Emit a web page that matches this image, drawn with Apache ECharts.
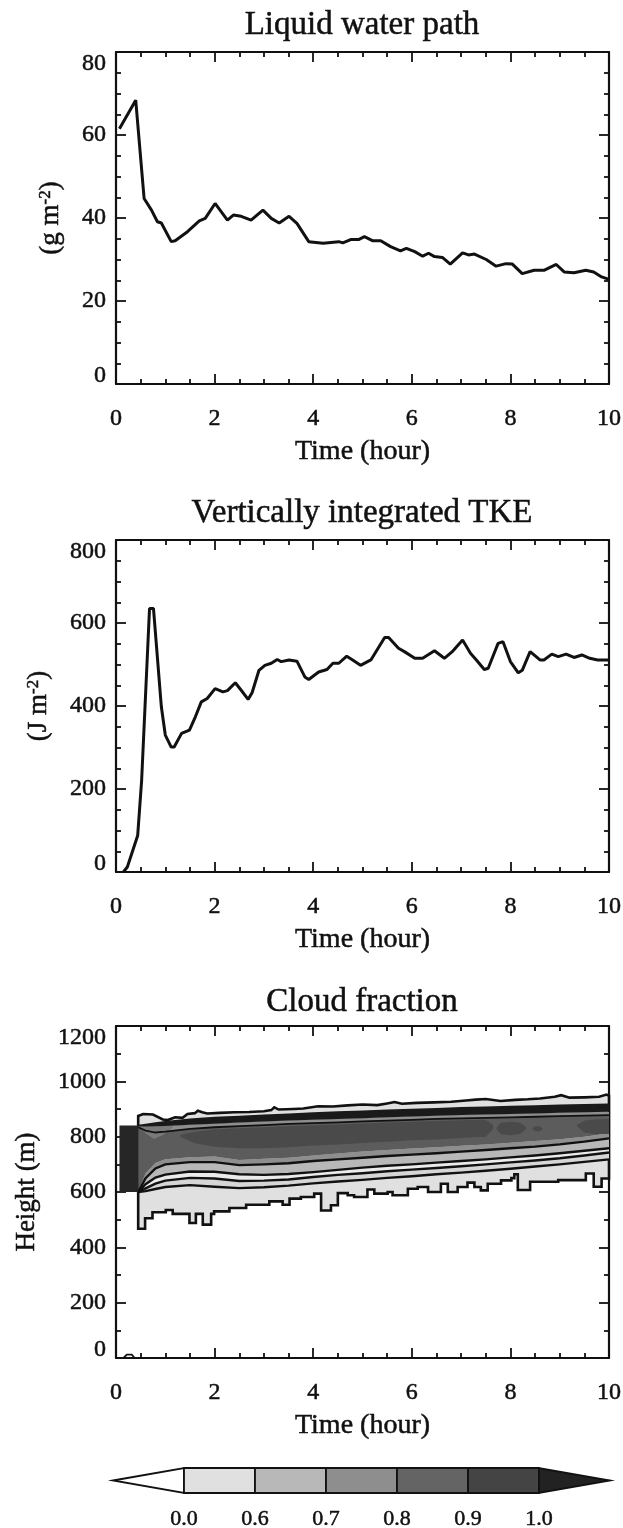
<!DOCTYPE html>
<html>
<head>
<meta charset="utf-8">
<script src="https://cdn.jsdelivr.net/npm/echarts@6/dist/echarts.min.js"></script>
<style>
  html, body { margin: 0; padding: 0; background: #ffffff; }
  #chart { width: 623px; height: 1528px; }
</style>
</head>
<body>
<div id="chart"></div>
<script>
// ---- Liquid water path (g m^-2) ----
const lwpTime = [0.07, 0.40, 0.57, 0.72, 0.84, 0.92, 1.12, 1.20, 1.45, 1.69, 1.81, 2.01, 2.26, 2.38, 2.54, 2.74, 2.98, 3.15, 3.31, 3.51, 3.67, 3.91, 4.20, 4.52, 4.60, 4.76, 4.92, 5.04, 5.21, 5.37, 5.57, 5.77, 5.89, 6.06, 6.22, 6.34, 6.46, 6.62, 6.78, 7.03, 7.15, 7.27, 7.51, 7.71, 7.91, 8.04, 8.24, 8.48, 8.68, 8.93, 9.09, 9.29, 9.53, 9.69, 9.85, 10.0];
const lwpValue = [61.5, 68.4, 44.7, 41.9, 39.1, 38.8, 34.3, 34.5, 36.7, 39.3, 39.9, 43.5, 39.5, 40.7, 40.4, 39.5, 41.9, 39.9, 38.8, 40.4, 38.7, 34.3, 33.9, 34.3, 34.0, 34.8, 34.8, 35.5, 34.5, 34.5, 33.1, 32.1, 32.7, 31.9, 30.8, 31.5, 30.7, 30.5, 28.9, 31.6, 31.1, 31.3, 30.0, 28.4, 29.0, 28.9, 26.6, 27.4, 27.4, 28.8, 27.0, 26.8, 27.4, 27.0, 25.8, 25.2];

// ---- Vertically integrated TKE (J m^-2) ----
const tkeTime = [0.15, 0.23, 0.44, 0.52, 0.68, 0.76, 0.92, 1.00, 1.12, 1.18, 1.33, 1.49, 1.61, 1.73, 1.85, 2.01, 2.17, 2.26, 2.42, 2.54, 2.68, 2.76, 2.90, 3.02, 3.15, 3.27, 3.35, 3.51, 3.67, 3.83, 3.91, 4.11, 4.28, 4.40, 4.52, 4.68, 4.80, 4.96, 5.17, 5.45, 5.53, 5.73, 5.85, 6.06, 6.22, 6.46, 6.66, 6.82, 7.03, 7.19, 7.31, 7.47, 7.55, 7.75, 7.85, 8.00, 8.16, 8.24, 8.40, 8.60, 8.68, 8.84, 8.97, 9.13, 9.29, 9.45, 9.61, 9.77, 10.0];
const tkeValue = [0, 12, 88, 221, 635, 635, 398, 330, 301, 301, 334, 342, 374, 410, 418, 442, 434, 437, 456, 438, 416, 432, 486, 498, 503, 512, 507, 511, 508, 470, 464, 482, 488, 503, 503, 520, 511, 498, 511, 565, 565, 539, 531, 515, 515, 533, 515, 531, 559, 527, 511, 488, 491, 551, 555, 507, 480, 486, 531, 511, 511, 525, 519, 525, 517, 523, 515, 511, 511];

// ---- Cloud fraction: contour boundaries (height in m vs time in hours) ----
// outer edge of the cloudy region: top (polyline) and base (step-wise)
const cfTopT = [0.45, 0.55, 0.75, 0.95, 1.05, 1.2, 1.35, 1.45, 1.6, 1.66, 1.75, 1.85, 2.1, 2.4, 2.7, 3.0, 3.15, 3.21, 3.3, 3.6, 3.8, 4.1, 4.4, 4.7, 5.0, 5.3, 5.5, 5.65, 5.8, 6.1, 6.45, 6.8, 7.1, 7.3, 7.5, 7.8, 8.1, 8.35, 8.6, 8.9, 9.03, 9.2, 9.5, 9.8, 9.95, 10];
const cfTopH = [875, 882, 880, 862, 860, 870, 868, 882, 885, 894, 888, 884, 886, 888, 889, 892, 896, 906, 898, 900, 902, 910, 909, 913, 916, 914, 920, 925, 919, 922, 924, 926, 931, 934, 936, 929, 933, 935, 938, 944, 950, 941, 942, 944, 952, 948];
const cfBaseT = [0.45, 0.59, 0.74, 1.01, 1.15, 1.49, 1.62, 1.76, 1.93, 1.99, 2.30, 2.64, 3.11, 3.38, 3.52, 3.75, 4.02, 4.16, 4.36, 4.50, 4.70, 4.83, 5.10, 5.24, 5.51, 5.61, 5.92, 6.12, 6.33, 6.59, 6.73, 6.93, 7.13, 7.27, 7.40, 7.54, 7.81, 8.02, 8.08, 8.15, 8.40, 8.97, 9.53, 9.69, 9.85, 10.0];
const cfBaseH = [467, 505, 527, 535, 521, 488, 521, 482, 521, 530, 542, 554, 566, 554, 576, 582, 594, 533, 552, 596, 588, 582, 609, 594, 600, 588, 612, 618, 600, 630, 600, 618, 634, 618, 606, 630, 642, 650, 664, 607, 637, 643, 667, 619, 649];

// interior contours on a common time axis
const cfT      = [0.45, 0.6, 0.8, 1.0, 1.5, 2.0, 2.5, 3.0, 3.5, 4.0, 4.5, 5.0, 5.5, 6.0, 6.5, 7.0, 7.5, 8.0, 8.5, 9.0, 9.5, 10.0];
const capTop   = [843, 847, 852, 857, 866, 872, 876, 880, 884, 888, 892, 895, 898, 901, 904, 907, 909, 912, 914, 916, 918, 920];
const capBase  = [837, 837, 838, 839, 843, 847, 851, 855, 858, 861, 864, 867, 870, 873, 876, 878, 880, 882, 884, 886, 888, 890];
const bodyTop  = [834, 822, 815, 818, 828, 834, 838, 842, 846, 849, 852, 855, 858, 861, 864, 866, 868, 870, 872, 874, 876, 878];
const bodyBase = [600, 668, 705, 718, 726, 728, 716, 720, 724, 732, 739, 746, 752, 757, 762, 767, 772, 778, 784, 791, 800, 812];
const lineA    = [600, 650, 685, 700, 708, 708, 697, 700, 704, 712, 718, 724, 730, 735, 740, 746, 752, 758, 764, 772, 782, 794];
const lineB    = [600, 628, 652, 663, 674, 673, 664, 662, 665, 672, 680, 688, 695, 700, 706, 712, 718, 725, 732, 740, 749, 758];
const lineC    = [600, 613, 630, 641, 651, 649, 640, 641, 645, 654, 662, 668, 675, 681, 687, 693, 700, 707, 714, 722, 732, 743];
const lineD    = [600, 603, 611, 618, 625, 619, 614, 617, 623, 631, 638, 644, 651, 657, 664, 670, 677, 684, 692, 700, 709, 718];

// densest core (0.9 - 1.0) and its detached patches
const coreT    = [1.3, 1.6, 2.0, 2.5, 3.0, 3.5, 4.0, 4.5, 5.0, 5.5, 6.0, 6.5, 7.0, 7.5, 7.65];
const coreBase = [800, 776, 764, 758, 758, 762, 768, 772, 777, 782, 787, 790, 795, 800, 828];
const coreTop  = [806, 818, 826, 830, 834, 838, 841, 844, 848, 851, 854, 857, 859, 861, 842];
const patch1T = [7.72, 7.8, 8.0, 8.2, 8.32];
const patch1Base = [828, 810, 805, 810, 828];
const patch1Top  = [832, 850, 854, 850, 834];
const patch2T = [8.45, 8.5, 8.6, 8.65];
const patch2Base = [826, 820, 820, 826];
const patch2Top  = [830, 838, 838, 830];
const patch3T = [9.35, 9.5, 9.7, 10.0];
const patch3Base = [838, 815, 810, 810];
const patch3Top  = [842, 858, 862, 864];

// lighter wedge just after spin-up
const wedgeT = [0.45, 0.6, 0.77, 0.95, 1.15];
const wedgeBase = [836, 812, 792, 806, 832];
const wedgeTop  = [837, 837, 838, 839, 841];

// initial saturated layer
const initT = [0.07, 0.45];
const initH = [600, 840];

// small near-surface feature
const surfT = [0.15, 0.22, 0.32, 0.38];
const surfH = [0, 12, 12, 0];

// ---- Colour scale ----
const cbLevels = ['0.0', '0.6', '0.7', '0.8', '0.9', '1.0'];
const cbColors = ['#ffffff', '#e0e0e0', '#b8b8b8', '#8e8e8e', '#646464', '#444444', '#222222'];

const FONT = '"Liberation Serif", "Times New Roman", "DejaVu Serif", serif';
const INK = '#111111';
// slightly heavier glyphs
const HEAVY = { textBorderColor: INK, textBorderWidth: 0.5 };

function zip(a, b) { return a.map((v, i) => [v, b[i]]); }

function xAxes(g) {
  const common = {
    gridIndex: g, type: 'value', min: 0, max: 10, interval: 2,
    splitLine: { show: false },
    axisLine: { show: true, onZero: false, lineStyle: { color: INK, width: 2.2 } },
    axisTick: { show: true, inside: true, length: 10, lineStyle: { color: INK, width: 1.8 } },
    minorTick: { show: true, splitNumber: 4, length: 5, lineStyle: { color: INK, width: 1.8 } }
  };
  return [
    Object.assign({}, common, {
      position: 'bottom',
      axisLabel: Object.assign({ margin: 23, fontFamily: FONT, fontSize: 24, color: INK }, HEAVY),
      name: 'Time (hour)', nameLocation: 'middle', nameGap: 54,
      nameTextStyle: Object.assign({ fontFamily: FONT, fontSize: 28, color: INK }, HEAVY)
    }),
    Object.assign({}, common, { position: 'top', axisLabel: { show: false } })
  ];
}

function yAxes(g, max, interval, minorSplit, name, nameGap) {
  const common = {
    gridIndex: g, type: 'value', min: 0, max: max, interval: interval,
    splitLine: { show: false },
    axisLine: { show: true, onZero: false, lineStyle: { color: INK, width: 2.2 } },
    axisTick: { show: true, inside: true, length: 10, lineStyle: { color: INK, width: 1.8 } },
    minorTick: { show: true, splitNumber: minorSplit, length: 5, lineStyle: { color: INK, width: 1.8 } }
  };
  const labelRich = {
    top: Object.assign({ fontFamily: FONT, fontSize: 24, color: INK, padding: [24, 0, 0, 0] }, HEAVY),
    bot: Object.assign({ fontFamily: FONT, fontSize: 24, color: INK, padding: [0, 0, 16, 0] }, HEAVY)
  };
  return [
    Object.assign({}, common, {
      position: 'left',
      axisLabel: Object.assign({
        margin: 10, fontFamily: FONT, fontSize: 24, color: INK, rich: labelRich,
        formatter: v => v === max ? '{top|' + v + '}' : (v === 0 ? '{bot|' + v + '}' : String(v))
      }, HEAVY),
      name: name, nameLocation: 'middle', nameGap: nameGap,
      nameTextStyle: Object.assign({
        fontFamily: FONT, fontSize: 27, color: INK,
        rich: { sup: Object.assign({ fontFamily: FONT, fontSize: 17, color: INK, verticalAlign: 'top' }, HEAVY) }
      }, HEAVY)
    }),
    Object.assign({}, common, { position: 'right', axisLabel: { show: false } })
  ];
}

const gridLeft = 116, gridRight = 14, gridH = 332;

function cloudShapes(params, api) {
  const P = (t, h) => api.coord([t, h]);
  const between = (T, lo, hi) =>
    T.map((t, i) => P(t, lo[i])).concat(T.map((t, i) => P(t, hi[i])).reverse());
  const line = (T, H) => T.map((t, i) => P(t, H[i]));
  const fill = (pts, color) => ({ type: 'polygon', shape: { points: pts }, style: { fill: color } });
  const stroke = (pts, w) => ({ type: 'polyline', shape: { points: pts }, style: { fill: null, stroke: INK, lineWidth: w } });

  // outer boundary: top edge, then the step-wise base traced back
  const outer = line(cfTopT, cfTopH);
  for (let i = cfBaseH.length - 1; i >= 0; i--) {
    outer.push(P(cfBaseT[i + 1], cfBaseH[i]));
    outer.push(P(cfBaseT[i], cfBaseH[i]));
  }
  const kids = [];
  kids.push({ type: 'polygon', shape: { points: outer }, style: { fill: cbColors[1], stroke: INK, lineWidth: 2.6 } });

  // interior bands
  kids.push(fill(between(cfT, lineD, lineC), '#d6d6d6'));
  kids.push(fill(between(cfT, lineC, lineB), '#ebebeb'));
  kids.push(fill(between(cfT, lineB, lineA), cbColors[2]));
  kids.push(fill(between(cfT, lineA, bodyBase), cbColors[3]));
  kids.push(fill(between(cfT, bodyBase, capBase), '#5c5c5c'));
  kids.push(fill(between(cfT, bodyTop, capBase), cbColors[3]));
  kids.push(fill(between(coreT, coreBase, coreTop), '#4a4a4a'));
  kids.push(fill(between(patch1T, patch1Base, patch1Top), '#4a4a4a'));
  kids.push(fill(between(patch2T, patch2Base, patch2Top), '#4a4a4a'));
  kids.push(fill(between(patch3T, patch3Base, patch3Top), '#4a4a4a'));
  kids.push(fill(between(wedgeT, wedgeBase, wedgeTop), '#7a7a7a'));
  kids.push(fill(between(cfT, capBase, capTop), '#1a1a1a'));

  // contour lines
  kids.push(stroke(line(cfT, lineA), 2.4));
  kids.push(stroke(line(cfT, lineB), 2.4));
  kids.push(stroke(line(cfT, lineC), 2.4));
  kids.push(stroke(line(cfT, lineD), 2.4));
  kids.push(stroke(line(cfT, bodyTop), 1.8));

  // initial layer
  const a = P(initT[0], initH[1]), b = P(initT[1], initH[0]);
  kids.push({ type: 'rect', shape: { x: a[0], y: a[1], width: b[0] - a[0], height: b[1] - a[1] }, style: { fill: '#262626' } });

  kids.push(stroke(line(surfT, surfH), 1.8));
  return { type: 'group', children: kids };
}

function colorbarShapes(params, api) {
  const P = (x, y) => api.coord([x, y]);
  const kids = [];
  const n = cbLevels.length;
  kids.push({ type: 'polygon', shape: { points: [P(-1, 0.5), P(0, 1), P(0, 0)] },
    style: { fill: cbColors[0], stroke: INK, lineWidth: 1.8 } });
  for (let i = 0; i < n - 1; i++) {
    const p0 = P(i, 1), p1 = P(i + 1, 0);
    kids.push({ type: 'rect', shape: { x: p0[0], y: p0[1], width: p1[0] - p0[0], height: p1[1] - p0[1] },
      style: { fill: cbColors[i + 1], stroke: INK, lineWidth: 1.8 } });
  }
  kids.push({ type: 'polygon', shape: { points: [P(n - 1, 0), P(n - 1, 1), P(n, 0.5)] },
    style: { fill: cbColors[n], stroke: INK, lineWidth: 1.8 } });
  return { type: 'group', children: kids };
}

const titles = [
  { text: 'Liquid water path', y: 25 },
  { text: 'Vertically integrated TKE', y: 513 },
  { text: 'Cloud fraction', y: 1002 }
];

const option = {
  animation: false,
  backgroundColor: '#ffffff',
  grid: [
    { left: gridLeft, right: gridRight, top: 52, height: gridH, containLabel: false, outerBoundsMode: 'none' },
    { left: gridLeft, right: gridRight, top: 540, height: gridH, containLabel: false, outerBoundsMode: 'none' },
    { left: gridLeft, right: gridRight, top: 1026, height: gridH, containLabel: false, outerBoundsMode: 'none' },
    { left: 113, right: 13, top: 1468, height: 25, containLabel: false, outerBoundsMode: 'none' }
  ],
  xAxis: [].concat(
    xAxes(0), xAxes(1), xAxes(2),
    [{
      gridIndex: 3, type: 'value', min: -1, max: cbLevels.length, interval: 1,
      axisLine: { show: false }, axisTick: { show: false }, splitLine: { show: false },
      axisLabel: Object.assign({
        margin: 15, fontFamily: FONT, fontSize: 22, color: INK,
        formatter: v => (v >= 0 && v < cbLevels.length) ? cbLevels[v] : ''
      }, HEAVY)
    }]
  ),
  yAxis: [].concat(
    yAxes(0, 80, 20, 4, '(g m{sup|-2})', 52),
    yAxes(1, 800, 200, 4, '(J m{sup|-2})', 64),
    yAxes(2, 1200, 200, 2, 'Height (m)', 76),
    [{ gridIndex: 3, type: 'value', min: 0, max: 1, show: false }]
  ),
  graphic: titles.map(t => ({
    type: 'text', x: 362, y: t.y, silent: true,
    style: Object.assign({ text: t.text, fontFamily: FONT, fontSize: 33, fill: INK, align: 'center', verticalAlign: 'middle',
      stroke: INK, lineWidth: 0.5 })
  })),
  series: [
    {
      type: 'line', xAxisIndex: 0, yAxisIndex: 0, data: zip(lwpTime, lwpValue),
      showSymbol: false, lineStyle: { color: INK, width: 3 }, silent: true
    },
    {
      type: 'line', xAxisIndex: 2, yAxisIndex: 2, data: zip(tkeTime, tkeValue),
      showSymbol: false, lineStyle: { color: INK, width: 3 }, silent: true
    },
    {
      type: 'custom', xAxisIndex: 4, yAxisIndex: 4, data: [[5, 600]],
      renderItem: cloudShapes, silent: true, z: 1
    },
    {
      type: 'custom', xAxisIndex: 6, yAxisIndex: 6, data: [[2.5, 0.5]],
      renderItem: colorbarShapes, silent: true
    }
  ]
};

const chart = echarts.init(document.getElementById('chart'), null, { renderer: 'canvas' });
chart.setOption(option);
</script>
</body>
</html>
